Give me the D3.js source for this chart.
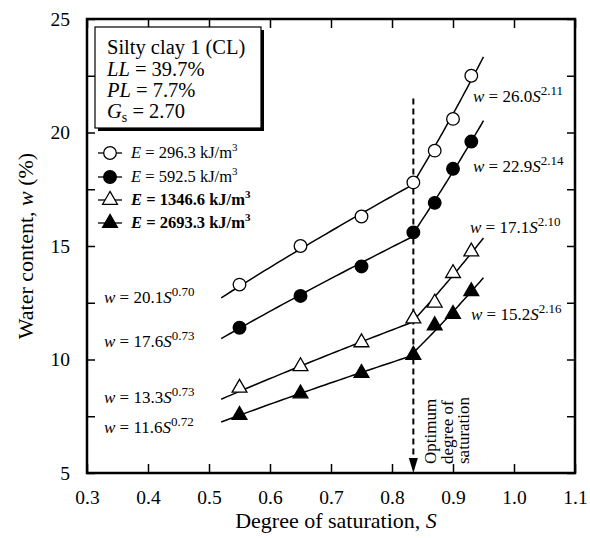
<!DOCTYPE html>
<html>
<head>
<meta charset="utf-8">
<script src="https://cdn.jsdelivr.net/npm/d3@7"></script>
<style>
  body { margin: 0; background: #fff; }
  svg text { font-family: "Liberation Serif", "Times New Roman", serif; fill: #000; }
</style>
</head>
<body>
<div class="chart-container"></div>
<script>
// degree of saturation for the tested points
var sat = [0.55, 0.65, 0.75, 0.835, 0.87, 0.90, 0.93];

// water content (%) per compaction energy
var wE296 = [13.3, 15.0, 16.3, 17.8, 19.2, 20.6, 22.5];
var wE592 = [11.4, 12.8, 14.1, 15.6, 16.9, 18.4, 19.6];
var wE1346 = [8.75, 9.7, 10.75, 11.8, 12.5, 13.8, 14.75];
var wE2693 = [7.55, 8.5, 9.4, 10.2, 11.5, 12.0, 13.0];

var energyLabels = ["296.3", "592.5", "1346.6", "2693.3"];

// fitted power laws w = a S^b, below and above optimum saturation
var fitA1 = [20.1, 17.6, 13.3, 11.6];
var fitB1 = [0.70, 0.73, 0.73, 0.72];
var fitA2 = [26.0, 22.9, 17.1, 15.2];
var fitB2 = [2.11, 2.14, 2.10, 2.16];
var fitRange = [0.52, 0.95];

var optimumS = 0.835;
var xTicks = [0.3, 0.4, 0.5, 0.6, 0.7, 0.8, 0.9, 1.0, 1.1];
var yTicks = [5, 10, 15, 20, 25];
var yMinor = [7.5, 12.5, 17.5, 22.5];

var SERIF = "Liberation Serif, Times New Roman, serif";

draw();

function draw() {
    var drawWidth = 590, drawHeight = 538;
    var margin = { top: 19, right: 15, bottom: 65, left: 87 };
    var width = drawWidth - margin.left - margin.right;
    var height = drawHeight - margin.top - margin.bottom;

    var svg = d3.select(".chart-container").append("svg")
        .attr("width", drawWidth)
        .attr("height", drawHeight)
        .attr("font-family", SERIF);
    var g = svg.append("g")
        .attr("transform", "translate(" + margin.left + "," + margin.top + ")");

    var x = d3.scaleLinear().domain([0.3, 1.1]).range([0, width]);
    var y = d3.scaleLinear().domain([5, 25]).range([height, 0]);

    // axes, ticks pointing inward on all four sides
    var fmt = d3.format(".1f");
    var axB = g.append("g").attr("transform", "translate(0," + height + ")")
        .call(d3.axisBottom(x).tickValues(xTicks).tickFormat(fmt).tickSizeInner(-9).tickSizeOuter(0).tickPadding(17));
    var axT = g.append("g")
        .call(d3.axisTop(x).tickValues(xTicks).tickFormat("").tickSizeInner(-9).tickSizeOuter(0));
    var axL = g.append("g")
        .call(d3.axisLeft(y).tickValues(yTicks.concat(yMinor)).tickFormat(function (d) { return yTicks.indexOf(d) >= 0 ? d : ""; })
            .tickSizeInner(-8).tickSizeOuter(0).tickPadding(17));
    var axR = g.append("g").attr("transform", "translate(" + width + ",0)")
        .call(d3.axisRight(y).tickValues(yTicks.concat(yMinor)).tickFormat("").tickSizeInner(-8).tickSizeOuter(0));
    [axB, axT, axL, axR].forEach(function (a) {
        a.attr("font-family", SERIF).attr("font-size", 19.5);
        a.select(".domain").remove();
        a.selectAll("line").attr("stroke", "#000").attr("stroke-width", 1.5);
        a.selectAll("text").attr("font-family", SERIF).attr("font-size", 19.5);
    });
    g.append("rect").attr("width", width).attr("height", height)
        .attr("fill", "none").attr("stroke", "#000").attr("stroke-width", 2.5);

    // axis titles
    var xt = svg.append("text")
        .attr("x", margin.left + width / 2 + 5).attr("y", 528)
        .attr("text-anchor", "middle").attr("font-size", 22);
    xt.append("tspan").text("Degree of saturation, ");
    xt.append("tspan").attr("font-style", "italic").text("S");

    var yt = svg.append("text")
        .attr("transform", "translate(33," + (margin.top + height / 2) + ") rotate(-90)")
        .attr("text-anchor", "middle").attr("font-size", 22);
    yt.append("tspan").text("Water content, ");
    yt.append("tspan").attr("font-style", "italic").text("w");
    yt.append("tspan").text(" (%)");

    // fitted curves
    var series = [wE296, wE592, wE1346, wE2693];
    var line = d3.line().x(function (d) { return x(d[0]); }).y(function (d) { return y(d[1]); });
    series.forEach(function (s, i) {
        var sBreak = Math.pow(fitA1[i] / fitA2[i], 1 / (fitB2[i] - fitB1[i]));
        var pts = [];
        var n = 40;
        for (var k = 0; k <= n; k++) {
            var sv = fitRange[0] + (sBreak - fitRange[0]) * k / n;
            pts.push([sv, fitA1[i] * Math.pow(sv, fitB1[i])]);
        }
        for (var k2 = 0; k2 <= n; k2++) {
            var sv2 = sBreak + (fitRange[1] - sBreak) * k2 / n;
            pts.push([sv2, fitA2[i] * Math.pow(sv2, fitB2[i])]);
        }
        g.append("path").datum(pts).attr("d", line)
            .attr("fill", "none").attr("stroke", "#000").attr("stroke-width", 1.5);
    });

    // optimum degree of saturation marker
    var xo = x(optimumS);
    g.append("line").attr("x1", xo).attr("x2", xo).attr("y1", y(21.5)).attr("y2", height - 12)
        .attr("stroke", "#000").attr("stroke-width", 2).attr("stroke-dasharray", "6,4");
    g.append("path")
        .attr("d", "M" + (xo - 4.5) + "," + (height - 15) + "L" + (xo + 4.5) + "," + (height - 15) + "L" + xo + "," + height + "Z")
        .attr("fill", "#000");
    var opt = g.append("text")
        .attr("transform", "translate(" + (xo + 23) + "," + (height - 9) + ") rotate(-90)")
        .attr("font-size", 17);
    ["Optimum", "degree of", "saturation"].forEach(function (t, i) {
        opt.append("tspan").attr("x", 0).attr("dy", i === 0 ? 0 : 16.5).text(t);
    });

    // markers
    var symbols = [
        { type: d3.symbolCircle, size: 125, fill: "#fff" },
        { type: d3.symbolCircle, size: 125, fill: "#000" },
        { type: d3.symbolTriangle, size: 95, fill: "#fff" },
        { type: d3.symbolTriangle, size: 95, fill: "#000" }
    ];
    series.forEach(function (s, i) {
        g.selectAll(".pt" + i).data(s).enter().append("path")
            .attr("transform", function (d, j) { return "translate(" + x(sat[j]) + "," + y(d) + ")"; })
            .attr("d", d3.symbol().type(symbols[i].type).size(symbols[i].size))
            .attr("fill", symbols[i].fill).attr("stroke", "#000").attr("stroke-width", 1.3);
    });

    // equation labels
    var eqs = [
        { a: fitA1[0], b: fitB1[0], x: 104, y: 303 },
        { a: fitA1[1], b: fitB1[1], x: 104, y: 347 },
        { a: fitA1[2], b: fitB1[2], x: 104, y: 403 },
        { a: fitA1[3], b: fitB1[3], x: 104, y: 433 },
        { a: fitA2[0], b: fitB2[0], x: 473, y: 102 },
        { a: fitA2[1], b: fitB2[1], x: 473, y: 172 },
        { a: fitA2[2], b: fitB2[2], x: 470, y: 233 },
        { a: fitA2[3], b: fitB2[3], x: 471, y: 320 }
    ];
    eqs.forEach(function (e) {
        var t = svg.append("text").attr("x", e.x).attr("y", e.y).attr("font-size", 17);
        t.append("tspan").attr("font-style", "italic").text("w");
        t.append("tspan").text(" = " + e.a.toFixed(1));
        t.append("tspan").attr("font-style", "italic").text("S");
        t.append("tspan").attr("dy", -7).attr("font-size", 13).text(e.b.toFixed(2));
    });

    // soil info box with shadow
    var bx = 95, by = 27, bw = 166, bh = 101;
    svg.append("rect").attr("x", bx + 3).attr("y", by + 3).attr("width", bw).attr("height", bh).attr("fill", "#000");
    svg.append("rect").attr("x", bx).attr("y", by).attr("width", bw).attr("height", bh)
        .attr("fill", "#fff").attr("stroke", "#000").attr("stroke-width", 1.2);
    var info = svg.append("g").attr("font-size", 20.5);
    info.append("text").attr("x", 107).attr("y", 54).text("Silty clay 1 (CL)");
    var t1 = info.append("text").attr("x", 107).attr("y", 75.5);
    t1.append("tspan").attr("font-style", "italic").text("LL");
    t1.append("tspan").text(" = 39.7%");
    var t2 = info.append("text").attr("x", 107).attr("y", 97);
    t2.append("tspan").attr("font-style", "italic").text("PL");
    t2.append("tspan").text(" = 7.7%");
    var t3 = info.append("text").attr("x", 107).attr("y", 118);
    t3.append("tspan").attr("font-style", "italic").text("G");
    t3.append("tspan").attr("dy", 4).attr("font-size", 14).text("s");
    t3.append("tspan").attr("dy", -4).text(" = 2.70");

    // legend
    var legY = [153, 177, 200, 223];
    energyLabels.forEach(function (lab, i) {
        var ly = legY[i];
        svg.append("line").attr("x1", 98).attr("x2", 122).attr("y1", ly).attr("y2", ly)
            .attr("stroke", "#000").attr("stroke-width", 1.3);
        svg.append("path").attr("transform", "translate(110," + ly + ")")
            .attr("d", d3.symbol().type(symbols[i].type).size(symbols[i].size))
            .attr("fill", symbols[i].fill).attr("stroke", "#000").attr("stroke-width", 1.3);
        var t = svg.append("text").attr("x", 131).attr("y", ly + 5).attr("font-size", 16.5)
            .attr("font-weight", i >= 2 ? "bold" : null);
        t.append("tspan").attr("font-style", "italic").text("E");
        t.append("tspan").text(" = " + lab + " kJ/m");
        t.append("tspan").attr("dy", -7).attr("font-size", 11).text("3");
    });
}
</script>
</body>
</html>
